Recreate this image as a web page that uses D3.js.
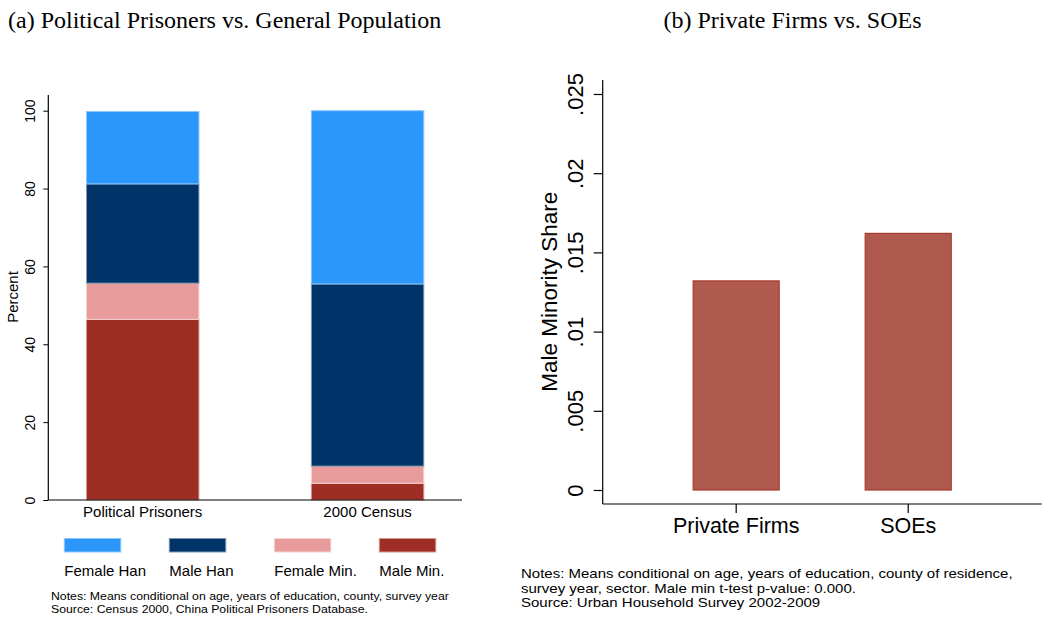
<!DOCTYPE html>
<html>
<head>
<meta charset="utf-8">
<script src="https://cdn.jsdelivr.net/npm/d3@7"></script>
<style>
  body { margin: 0; background: #fff; }
  svg { display: block; }
  .sans { font-family: "Liberation Sans", Arial, sans-serif; fill: #000; }
  .serif { font-family: "Liberation Serif", "Times New Roman", serif; fill: #000; }
</style>
</head>
<body>
<div id="chart"></div>
<script>
// panel (a): stacked shares by group
const groups = ['Political Prisoners', '2000 Census'];
const segmentNames = ['Male Min.', 'Female Min.', 'Male Han', 'Female Han'];
const maleMin = [46.4, 4.3];
const femaleMin = [9.3, 4.4];
const maleHan = [25.5, 46.8];
const femaleHan = [18.6, 44.5];
const legendOrder = ['Female Han', 'Male Han', 'Female Min.', 'Male Min.'];
const percentTicks = [0, 20, 40, 60, 80, 100];

// panel (b): male minority share by sector
const sectors = ['Private Firms', 'SOEs'];
const maleMinShare = [0.0132, 0.0162];
const shareTicks = [0, 0.005, 0.01, 0.015, 0.02, 0.025];
const shareTickLabels = ['0', '.005', '.01', '.015', '.02', '.025'];

const fills = {
  'Female Han': '#2b97fb',
  'Male Han': '#003468',
  'Female Min.': '#e89b9b',
  'Male Min.': '#9e2e24'
};
const strokes = {
  'Female Han': '#8cc6fd',
  'Male Han': '#7f98b4',
  'Female Min.': '#f6d4d4',
  'Male Min.': '#d49691'
};

const W = 1063, H = 621;
const svg = d3.select('#chart').append('svg')
  .attr('width', W)
  .attr('height', H);

// rotate y tick labels like Stata does
function rotateTickLabels(g, offset) {
  g.selectAll('.tick text')
    .attr('transform', 'rotate(-90)')
    .attr('x', 0)
    .attr('y', -offset)
    .attr('dy', 0)
    .attr('text-anchor', 'middle');
}

// notes block; Stata output is a bit wider than tall so stretch it horizontally
function drawNotes(lines, x0, y0, lineGap, fontSize, stretch) {
  svg.append('g')
    .attr('transform', `translate(${x0},0) scale(${stretch},1)`)
    .selectAll('text')
    .data(lines)
    .enter()
    .append('text')
    .attr('class', 'sans')
    .attr('x', 0)
    .attr('y', (d, i) => y0 + i * lineGap)
    .style('font-size', fontSize + 'px')
    .text(d => d);
}

// ---------- panel (a) ----------
function drawStacked() {
  const left = 48.3, right = 462, top = 95, bottom = 500;

  svg.append('text')
    .attr('class', 'serif')
    .attr('x', 8)
    .attr('y', 27.5)
    .style('font-size', '24px')
    .text('(a) Political Prisoners vs. General Population');

  const x = d3.scaleBand()
    .domain(groups)
    .range([left, right])
    .paddingInner(0.5)
    .paddingOuter(0.17);

  const y = d3.scaleLinear()
    .domain([0, 100])
    .range([bottom, 110.7]);

  const rows = groups.map((g, i) => ({
    group: g,
    'Male Min.': maleMin[i],
    'Female Min.': femaleMin[i],
    'Male Han': maleHan[i],
    'Female Han': femaleHan[i]
  }));
  const stacked = d3.stack().keys(segmentNames)(rows);

  stacked.forEach(layer => {
    svg.append('g')
      .selectAll('rect')
      .data(layer)
      .enter()
      .append('rect')
      .attr('x', d => x(d.data.group))
      .attr('y', d => y(d[1]))
      .attr('width', x.bandwidth())
      .attr('height', d => y(d[0]) - y(d[1]))
      .attr('fill', fills[layer.key])
      .attr('stroke', strokes[layer.key])
      .attr('stroke-width', 1);
  });

  const yAxis = svg.append('g')
    .attr('class', 'sans')
    .attr('transform', `translate(${left},0)`)
    .call(d3.axisLeft(y).tickValues(percentTicks).tickSize(5).tickFormat(d3.format('d')));
  yAxis.select('.domain').remove();
  yAxis.selectAll('.tick line').attr('stroke', '#000');
  yAxis.selectAll('.tick text').style('font-size', '14px').attr('fill', '#000');
  rotateTickLabels(yAxis, 13.3);

  // axis lines
  svg.append('line')
    .attr('x1', left).attr('x2', left)
    .attr('y1', top).attr('y2', bottom)
    .attr('stroke', '#000').attr('stroke-width', 1.2);
  svg.append('line')
    .attr('x1', left).attr('x2', right)
    .attr('y1', bottom).attr('y2', bottom)
    .attr('stroke', '#000').attr('stroke-width', 1.2);

  // category labels
  svg.append('g')
    .selectAll('text')
    .data(groups)
    .enter()
    .append('text')
    .attr('class', 'sans')
    .attr('x', d => x(d) + x.bandwidth() / 2)
    .attr('y', 517)
    .attr('text-anchor', 'middle')
    .style('font-size', '15px')
    .text(d => d);

  svg.append('text')
    .attr('class', 'sans')
    .attr('transform', 'translate(18.3,297) rotate(-90)')
    .attr('text-anchor', 'middle')
    .style('font-size', '15px')
    .text('Percent');

  // legend
  const legendX = d3.scalePoint()
    .domain(legendOrder)
    .range([64.3, 379.3]);

  const legend = svg.append('g')
    .selectAll('g')
    .data(legendOrder)
    .enter()
    .append('g')
    .attr('transform', d => `translate(${legendX(d)},538.5)`);

  legend.append('rect')
    .attr('width', 56.5)
    .attr('height', 13.5)
    .attr('fill', d => fills[d])
    .attr('stroke', d => strokes[d])
    .attr('stroke-width', 1);

  legend.append('text')
    .attr('class', 'sans')
    .attr('x', 0)
    .attr('y', 37.5)
    .style('font-size', '15px')
    .text(d => d);

  drawNotes([
    'Notes: Means conditional on age, years of education, county, survey year',
    'Source: Census 2000, China Political Prisoners Database.'
  ], 51, 600.5, 12.2, 10.5, 1.17);
}

// ---------- panel (b) ----------
function drawShares() {
  const left = 602.7, right = 1041.7, top = 80, bottom = 504;

  svg.append('text')
    .attr('class', 'serif')
    .attr('x', 792.5)
    .attr('y', 27.5)
    .attr('text-anchor', 'middle')
    .style('font-size', '24px')
    .text('(b) Private Firms vs. SOEs');

  const x = d3.scaleBand()
    .domain(sectors)
    .range([left, right])
    .paddingInner(0.5)
    .paddingOuter(0.526);

  const y = d3.scaleLinear()
    .domain([0, 0.025])
    .range([490, 94]);

  svg.append('g')
    .selectAll('rect')
    .data(sectors)
    .enter()
    .append('rect')
    .attr('x', d => x(d))
    .attr('y', (d, i) => y(maleMinShare[i]))
    .attr('width', x.bandwidth())
    .attr('height', (d, i) => y(0) - y(maleMinShare[i]))
    .attr('fill', '#b0594f')
    .attr('stroke', '#a8392f')
    .attr('stroke-width', 1.2);

  const yAxis = svg.append('g')
    .attr('class', 'sans')
    .attr('transform', `translate(${left},0)`)
    .call(d3.axisLeft(y).tickValues(shareTicks).tickSize(9)
      .tickFormat((d, i) => shareTickLabels[i]));
  yAxis.select('.domain').remove();
  yAxis.selectAll('.tick line').attr('stroke', '#000').attr('stroke-width', 1.2);
  yAxis.selectAll('.tick text').style('font-size', '22px').attr('fill', '#000');
  rotateTickLabels(yAxis, 19.4);

  const xAxis = svg.append('g')
    .attr('class', 'sans')
    .attr('transform', `translate(0,${bottom})`)
    .call(d3.axisBottom(x).tickSize(9).tickPadding(6));
  xAxis.select('.domain').remove();
  xAxis.selectAll('.tick line').attr('stroke', '#000').attr('stroke-width', 1.2);
  xAxis.selectAll('.tick text')
    .attr('dy', 0)
    .attr('y', 29.3)
    .style('font-size', '21.5px')
    .attr('fill', '#000');

  svg.append('line')
    .attr('x1', left).attr('x2', left)
    .attr('y1', top).attr('y2', bottom)
    .attr('stroke', '#000').attr('stroke-width', 1.2);
  svg.append('line')
    .attr('x1', left).attr('x2', right)
    .attr('y1', bottom).attr('y2', bottom)
    .attr('stroke', '#000').attr('stroke-width', 1.2);

  svg.append('text')
    .attr('class', 'sans')
    .attr('transform', 'translate(557.3,291.7) rotate(-90)')
    .attr('text-anchor', 'middle')
    .style('font-size', '22.5px')
    .text('Male Minority Share');

  drawNotes([
    'Notes: Means conditional on age, years of education, county of residence,',
    'survey year, sector. Male min t-test p-value: 0.000.',
    'Source: Urban Household Survey 2002-2009'
  ], 521, 578.5, 14.3, 12.5, 1.2);
}

drawStacked();
drawShares();
</script>
</body>
</html>
